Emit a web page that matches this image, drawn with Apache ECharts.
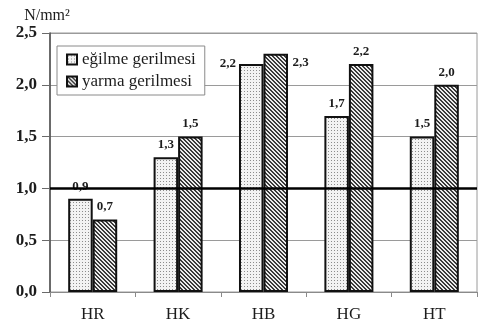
<!DOCTYPE html>
<html>
<head>
<meta charset="utf-8">
<style>
  html, body { margin: 0; padding: 0; background: #fff; }
  #chart { width: 480px; height: 331px; }
</style>
<script src="https://cdn.jsdelivr.net/npm/echarts@6/dist/echarts.min.js"></script>
</head>
<body>
<div id="chart"></div>
<script>
// Strength values per sample, N/mm²
const categories = ['HR', 'HK', 'HB', 'HG', 'HT'];
const egilme = [0.9, 1.3, 2.2, 1.7, 1.5];   // eğilme gerilmesi
const yarma = [0.7, 1.5, 2.3, 2.2, 2.0];    // yarma gerilmesi
const seriesNames = ['eğilme gerilmesi', 'yarma gerilmesi'];
const yMin = 0, yMax = 2.5, yStep = 0.5;
const referenceValue = 1.0;

const FONT = '"Liberation Serif", "Times New Roman", serif';
const INK = '#1c1c1c';

// Fill textures for the two series
function dotTexture() {
  const c = document.createElement('canvas');
  c.width = 3; c.height = 3;
  const g = c.getContext('2d');
  g.fillStyle = '#f3f3f3'; g.fillRect(0, 0, 3, 3);
  g.fillStyle = '#8c8c8c'; g.fillRect(1, 1, 1, 1);
  return c;
}
function hatchTexture() {
  const s = 4;
  const c = document.createElement('canvas');
  c.width = s; c.height = s;
  const g = c.getContext('2d');
  g.fillStyle = '#ebebeb'; g.fillRect(0, 0, s, s);
  g.fillStyle = '#3a3a3a';
  for (let i = 0; i < s; i++) {
    g.fillRect(i, i, 1, 1);
    g.fillRect((i + 1) % s, i, 1, 1);
  }
  return c;
}

const fmt = v => v.toFixed(1).replace('.', ',');

const valueLabel = {
  show: true,
  position: 'top',
  distance: 6,
  fontFamily: FONT,
  fontSize: 13,
  fontWeight: 'bold',
  color: INK,
  formatter: p => fmt(p.value)
};

// HB labels sit beside the bar tops instead of above them
function buildData(values, sideLabel) {
  return values.map((v, i) => {
    if (categories[i] === 'HB') {
      return { value: v, label: sideLabel };
    }
    return v;
  });
}

const chart = echarts.init(document.getElementById('chart'), null, { renderer: 'canvas' });

chart.setOption({
  backgroundColor: '#ffffff',
  animation: false,
  grid: {
    left: 50, right: 3, top: 33, bottom: 39,
    show: true, borderColor: '#9a9a9a', borderWidth: 1
  },
  legend: {
    orient: 'vertical',
    left: 57, top: 46,
    padding: [5, 9, 5, 9],
    itemGap: 5,
    itemWidth: 10, itemHeight: 10,
    borderColor: '#8a8a8a', borderWidth: 1,
    backgroundColor: '#fff',
    selectedMode: false,
    icon: 'rect',
    data: seriesNames,
    textStyle: { fontFamily: FONT, fontSize: 17, color: INK }
  },
  xAxis: {
    type: 'category',
    data: categories,
    axisLine: { lineStyle: { color: '#8a8a8a', width: 1 } },
    axisTick: { show: true, length: 5, lineStyle: { color: '#8a8a8a' } },
    axisLabel: { fontFamily: FONT, fontSize: 17, color: INK, margin: 14 }
  },
  yAxis: {
    type: 'value',
    min: yMin, max: yMax, interval: yStep,
    name: 'N/mm²',
    nameLocation: 'end',
    nameGap: 9,
    nameTextStyle: { fontFamily: FONT, fontSize: 16, color: INK, padding: [0, 6, 0, 0] },
    axisLine: { show: true, lineStyle: { color: '#4a4a4a', width: 1.5 } },
    axisTick: { show: true, length: 8, lineStyle: { color: '#6a6a6a' } },
    axisLabel: {
      fontFamily: FONT, fontSize: 17, fontWeight: 'bold', color: INK, margin: 13,
      formatter: v => fmt(v)
    },
    splitLine: { show: true, lineStyle: { color: '#9a9a9a', width: 1 } }
  },
  series: [
    {
      name: seriesNames[0],
      type: 'bar',
      data: buildData(egilme, { position: [-11, 0], align: 'center', verticalAlign: 'middle' }),
      barGap: 0,
      barCategoryGap: '42.6%',
      itemStyle: {
        color: { image: dotTexture(), repeat: 'repeat' },
        borderColor: '#111', borderWidth: 2
      },
      label: valueLabel,
      markLine: {
        silent: true,
        symbol: ['none', 'none'],
        label: { show: false },
        lineStyle: { color: '#000', width: 2.5, type: 'solid' },
        data: [{ yAxis: referenceValue }]
      }
    },
    {
      name: seriesNames[1],
      type: 'bar',
      data: buildData(yarma, { position: [37, 9], align: 'center', verticalAlign: 'middle' }),
      itemStyle: {
        color: { image: hatchTexture(), repeat: 'repeat' },
        borderColor: '#111', borderWidth: 2
      },
      label: valueLabel
    }
  ]
});
</script>
</body>
</html>
